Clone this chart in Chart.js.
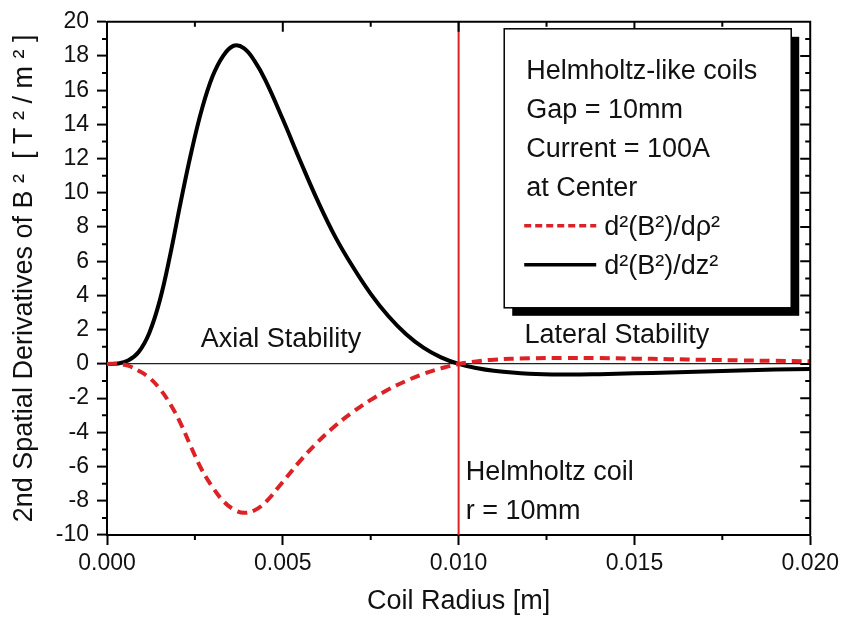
<!DOCTYPE html>
<html>
<head>
<meta charset="utf-8">
<script src="https://cdn.jsdelivr.net/npm/chart.js@4/dist/chart.umd.min.js"></script>
<style>
  body { margin: 0; background: #fff; }
  canvas { display: block; }
</style>
</head>
<body>
<canvas id="chart" width="844" height="618"></canvas>
<script>
// coil radius [m]
const radius = [0, 0.0003, 0.0006, 0.0009, 0.0012, 0.0015, 0.0018, 0.0021, 0.0024, 0.0027,
    0.003, 0.0033, 0.0036, 0.0039, 0.0042, 0.0045, 0.005, 0.0055, 0.006, 0.0065,
    0.007, 0.0075, 0.008, 0.0085, 0.009, 0.0095, 0.01, 0.0105, 0.011, 0.012,
    0.013, 0.014, 0.015, 0.016, 0.017, 0.018, 0.019, 0.02];

// d2(B2)/dz2
const axialValues = [0, 0.02, 0.2, 0.7, 1.8, 3.7, 6.4, 9.5, 12.4, 14.9,
    16.8, 18.0, 18.6, 18.45, 17.7, 16.6, 14.3, 11.85, 9.5, 7.4,
    5.65, 4.1, 2.8, 1.75, 0.95, 0.38, 0, -0.24, -0.4, -0.57,
    -0.62, -0.6, -0.55, -0.5, -0.44, -0.38, -0.33, -0.3];

// d2(B2)/drho2
const lateralValues = [0, 0, -0.1, -0.4, -0.8, -1.45, -2.35, -3.5, -4.9, -6.2,
    -7.2, -8.0, -8.5, -8.7, -8.55, -8.1, -6.9, -5.65, -4.55, -3.6,
    -2.8, -2.1, -1.5, -1.0, -0.58, -0.26, 0, 0.15, 0.25, 0.33,
    0.35, 0.34, 0.31, 0.28, 0.24, 0.21, 0.18, 0.15];

// Helmholtz coil marker at r = 10mm
const markerX = [0.01, 0.01];
const markerY = [-10, 20];

const xTicks = [0, 0.005, 0.01, 0.015, 0.02];
const xMinorStep = 0.0025;
const yMinorStep = 1;

const legendHeader = ["Helmholtz-like coils", "Gap = 10mm", "Current = 100A", "at Center"];

const notes = [
    { text: "Axial Stability", x: 0.00495, y: 1.0, align: "center" },
    { text: "Lateral Stability", x: 0.0145, y: 1.2, align: "center" },
    { text: "Helmholtz coil", x: 0.0102, y: -6.8, align: "left" },
    { text: "r = 10mm", x: 0.0102, y: -9.05, align: "left" }
];

const RED = "#dc2226";

function points(xs, ys) {
    return xs.map((x, i) => ({ x: x, y: ys[i] }));
}

Chart.defaults.font.family = '"Liberation Sans", Arial, sans-serif';
Chart.defaults.color = "#111";

const frame = {
    id: "frame",
    afterDraw(chart) {
        const { ctx, chartArea: a, scales: { x, y } } = chart;
        ctx.save();
        ctx.strokeStyle = "#000";
        ctx.lineWidth = 2;
        ctx.beginPath();
        ctx.moveTo(a.left, a.top);
        ctx.lineTo(a.right, a.top);
        ctx.lineTo(a.right, a.bottom);

        const nx = Math.round((x.max - x.min) / xMinorStep);
        for (let i = 0; i <= nx; i++) {
            const px = x.getPixelForValue(x.min + i * xMinorStep);
            const len = i % 2 === 0 ? 10 : 5;
            ctx.moveTo(px, a.top);
            ctx.lineTo(px, a.top + len);
            if (i % 2 === 1) {
                ctx.moveTo(px, a.bottom);
                ctx.lineTo(px, a.bottom + len);
            }
        }
        const ny = Math.round((y.max - y.min) / yMinorStep);
        for (let i = 0; i <= ny; i++) {
            const py = y.getPixelForValue(y.min + i * yMinorStep);
            const len = i % 2 === 0 ? 10 : 5;
            ctx.moveTo(a.right, py);
            ctx.lineTo(a.right - len, py);
            if (i % 2 === 1) {
                ctx.moveTo(a.left, py);
                ctx.lineTo(a.left - len, py);
            }
        }
        ctx.stroke();

        // text notes
        ctx.fillStyle = "#111";
        ctx.font = '27px "Liberation Sans", Arial, sans-serif';
        ctx.textBaseline = "alphabetic";
        notes.forEach(n => {
            ctx.textAlign = n.align;
            ctx.fillText(n.text, x.getPixelForValue(n.x), y.getPixelForValue(n.y));
        });

        // legend box with drop shadow
        const bx = a.right - 306, by = a.top + 7, bw = 287, bh = 279;
        ctx.fillStyle = "#000";
        ctx.fillRect(bx + 8, by + 8, bw, bh);
        ctx.fillStyle = "#fff";
        ctx.fillRect(bx, by, bw, bh);
        ctx.lineWidth = 1.5;
        ctx.strokeRect(bx, by, bw, bh);

        ctx.fillStyle = "#111";
        ctx.textAlign = "left";
        legendHeader.forEach((t, i) => ctx.fillText(t, bx + 22, by + 50 + i * 39));

        const series = chart.data.datasets.filter(d => d.label);
        series.forEach((d, i) => {
            const ly = by + 206 + i * 39;
            ctx.strokeStyle = d.borderColor;
            ctx.lineWidth = 3.5;
            ctx.setLineDash(d.borderDash ? [7, 4] : []);
            ctx.beginPath();
            ctx.moveTo(bx + 20, ly - 9);
            ctx.lineTo(bx + 92, ly - 9);
            ctx.stroke();
            ctx.setLineDash([]);
            ctx.fillText(d.label, bx + 100, ly);
        });
        ctx.restore();
    }
};

new Chart(document.getElementById("chart"), {
    type: "line",
    data: {
        datasets: [
            {
                data: points(markerX, markerY),
                borderColor: RED,
                borderWidth: 2,
                pointRadius: 0,
                tension: 0
            },
            {
                label: "d²(B²)/dρ²",
                data: points(radius, lateralValues),
                borderColor: RED,
                borderWidth: 4,
                borderDash: [10, 6],
                pointRadius: 0,
                tension: 0.4
            },
            {
                label: "d²(B²)/dz²",
                data: points(radius, axialValues),
                borderColor: "#000",
                borderWidth: 4,
                pointRadius: 0,
                tension: 0.4
            }
        ]
    },
    options: {
        responsive: false,
        animation: false,
        layout: { padding: { top: 16, right: 33, left: 0, bottom: 0 } },
        plugins: {
            legend: { display: false },
            tooltip: { enabled: false }
        },
        scales: {
            x: {
                type: "linear",
                min: 0,
                max: 0.02,
                afterFit: s => { s.height = 83; },
                afterBuildTicks: s => { s.ticks = xTicks.map(v => ({ value: v })); },
                ticks: {
                    padding: 5,
                    font: { size: 23 },
                    color: "#111",
                    maxRotation: 0,
                    callback: v => v.toFixed(3)
                },
                grid: {
                    drawOnChartArea: false,
                    tickLength: 10,
                    tickColor: "#000",
                    tickWidth: 2
                },
                border: { color: "#000", width: 2 },
                title: {
                    display: true,
                    text: "Coil Radius [m]",
                    font: { size: 27 },
                    color: "#111",
                    padding: { top: 3, bottom: 0 }
                }
            },
            y: {
                min: -10,
                max: 20,
                afterFit: s => { s.width = 107; },
                ticks: {
                    stepSize: 2,
                    padding: 8,
                    font: { size: 23 },
                    color: "#111"
                },
                grid: {
                    color: c => (c.tick && c.tick.value === 0 ? "#222" : "transparent"),
                    lineWidth: 1.2,
                    tickLength: 10,
                    tickColor: "#000",
                    tickWidth: 2
                },
                border: { color: "#000", width: 2 },
                title: {
                    display: true,
                    text: "2nd Spatial Derivatives of B ²  [ T ² / m ² ]",
                    font: { size: 27 },
                    color: "#111",
                    padding: { top: 8, bottom: 0 }
                }
            }
        }
    },
    plugins: [frame]
});
</script>
</body>
</html>
